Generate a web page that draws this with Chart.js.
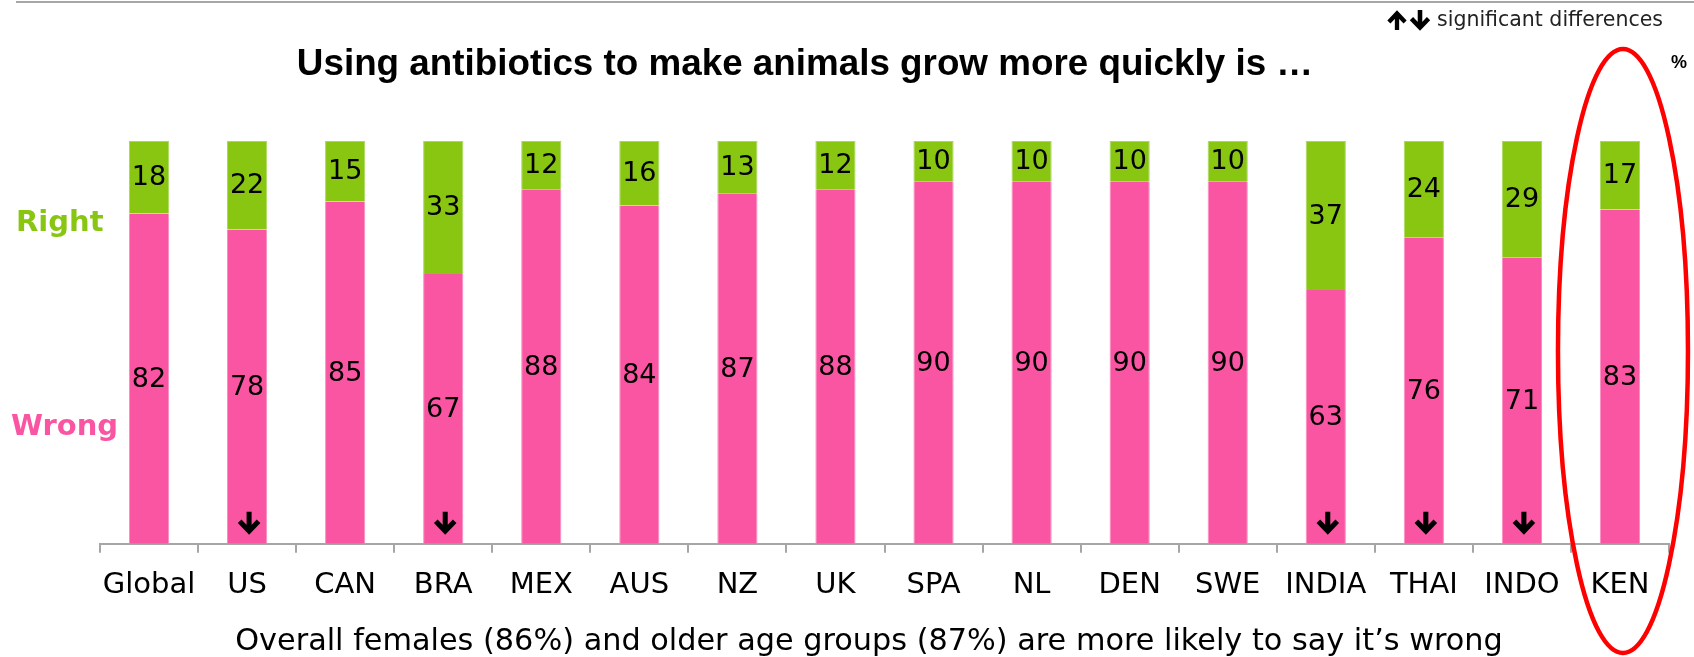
<!DOCTYPE html>
<html>
<head>
<meta charset="utf-8">
<script src="https://cdn.jsdelivr.net/npm/chart.js@4.4.0/dist/chart.umd.min.js"></script>
<style>
  html, body { margin: 0; padding: 0; background: #fff; }
</style>
</head>
<body>
<canvas id="g_antibioticos" width="1694" height="657"></canvas>
<script>
var paises = ['Global','US','CAN','BRA','MEX','AUS','NZ','UK','SPA','NL','DEN','SWE','INDIA','THAI','INDO','KEN'];
var wrong = [82,78,85,67,88,84,87,88,90,90,90,90,63,76,71,83];
var right = [18,22,15,33,12,16,13,12,10,10,10,10,37,24,29,17];
// paises con diferencia significativa a la baja
var bajaSig = ['US','BRA','INDIA','THAI','INDO'];
var resaltado = 'KEN';

var ROSA = '#FA55A2';
var VERDE = '#88C612';
var GRIS = '#a6a6a6';
var fuente = '"DejaVu Sans", sans-serif';

// flecha gruesa tipo chevron; y = borde superior
function flecha(ctx, x, y, h, arriba) {
    var w = h * 0.9;
    ctx.save();
    ctx.strokeStyle = '#000';
    ctx.lineWidth = h * 0.24;
    ctx.lineJoin = 'miter';
    ctx.lineCap = 'butt';
    ctx.beginPath();
    if (arriba) {
        ctx.moveTo(x, y + h);
        ctx.lineTo(x, y + h * 0.15);
        ctx.moveTo(x - w / 2, y + h * 0.55);
        ctx.lineTo(x, y + h * 0.08);
        ctx.lineTo(x + w / 2, y + h * 0.55);
    } else {
        ctx.moveTo(x, y);
        ctx.lineTo(x, y + h * 0.85);
        ctx.moveTo(x - w / 2, y + h * 0.45);
        ctx.lineTo(x, y + h * 0.92);
        ctx.lineTo(x + w / 2, y + h * 0.45);
    }
    ctx.stroke();
    ctx.restore();
}

var extras = {
    id: 'extras',
    afterDatasetsDraw: function(chart) {
        var ctx = chart.ctx;
        var xs = chart.scales.x;
        ctx.save();
        // valores dentro de cada segmento
        ctx.fillStyle = '#000';
        ctx.font = '27px ' + fuente;
        ctx.textAlign = 'center';
        ctx.textBaseline = 'middle';
        chart.data.datasets.forEach(function(ds, d) {
            chart.getDatasetMeta(d).data.forEach(function(bar, i) {
                var c = bar.getCenterPoint();
                ctx.fillText(ds.data[i], c.x, c.y + 1);
            });
        });
        // flechas de diferencias significativas
        bajaSig.forEach(function(p) {
            var x = xs.getPixelForValue(paises.indexOf(p));
            flecha(ctx, x + 2, chart.chartArea.bottom - 32, 21, false);
        });
        ctx.restore();
    },
    afterDraw: function(chart) {
        var ctx = chart.ctx;
        var xs = chart.scales.x;
        ctx.save();
        // linea gris superior
        ctx.strokeStyle = GRIS;
        ctx.lineWidth = 2;
        ctx.beginPath();
        ctx.moveTo(16, 2);
        ctx.lineTo(1694, 2);
        ctx.stroke();

        ctx.textBaseline = 'middle';
        ctx.textAlign = 'center';
        ctx.fillStyle = '#000';
        ctx.font = 'bold 36.8px "Liberation Sans", Arial, sans-serif';
        ctx.fillText('Using antibiotics to make animals grow more quickly is \u2026', 805, 65);

        ctx.font = 'bold 18px "Liberation Sans", Arial, sans-serif';
        ctx.fillText('%', 1679, 63);

        ctx.textAlign = 'left';
        ctx.font = '20.5px ' + fuente;
        ctx.fillStyle = '#222';
        ctx.fillText('significant differences', 1437, 21);
        flecha(ctx, 1397, 12, 18, true);
        flecha(ctx, 1420, 10, 19, false);

        ctx.font = 'bold 29px ' + fuente;
        ctx.fillStyle = VERDE;
        ctx.fillText('Right', 16, 223);
        ctx.fillStyle = ROSA;
        ctx.fillText('Wrong', 11, 427);

        ctx.textAlign = 'center';
        ctx.fillStyle = '#000';
        ctx.font = '30.3px ' + fuente;
        ctx.fillText('Overall females (86%) and older age groups (87%) are more likely to say it\u2019s wrong', 869, 642);

        // ovalo rojo alrededor del pais resaltado
        var cx = xs.getPixelForValue(paises.indexOf(resaltado)) + 3;
        ctx.strokeStyle = '#FF0000';
        ctx.lineWidth = 4.5;
        ctx.beginPath();
        ctx.ellipse(cx, 351, 65, 302, 0, 0, Math.PI * 2);
        ctx.stroke();
        ctx.restore();
    }
};

var ctx = document.getElementById('g_antibioticos');
var grafico = new Chart(ctx, {
    type: 'bar',
    data: {
        labels: paises,
        datasets: [{
            label: 'Wrong',
            data: wrong,
            backgroundColor: ROSA,
            borderColor: '#fb8cc0',
            borderWidth: { left: 1, right: 1 },
            borderSkipped: false
        }, {
            label: 'Right',
            data: right,
            backgroundColor: VERDE,
            borderColor: '#a9d95c',
            borderWidth: { left: 1, right: 1, top: 1 },
            borderSkipped: false
        }]
    },
    options: {
        responsive: false,
        animation: false,
        categoryPercentage: 1,
        barPercentage: 0.41,
        layout: { padding: { left: 100, right: 25, top: 141, bottom: 39.5 } },
        plugins: {
            legend: { display: false },
            tooltip: { enabled: false }
        },
        scales: {
            x: {
                stacked: true,
                grid: { display: true, drawOnChartArea: false, drawTicks: true, tickLength: 9, color: GRIS, lineWidth: 2 },
                border: { display: true, color: GRIS, width: 2 },
                ticks: { color: '#000', font: { family: fuente, size: 29 }, padding: 15, autoSkip: false, maxRotation: 0 }
            },
            y: {
                stacked: true,
                display: false,
                min: 0,
                max: 100
            }
        }
    },
    plugins: [extras]
});
</script>
</body>
</html>
